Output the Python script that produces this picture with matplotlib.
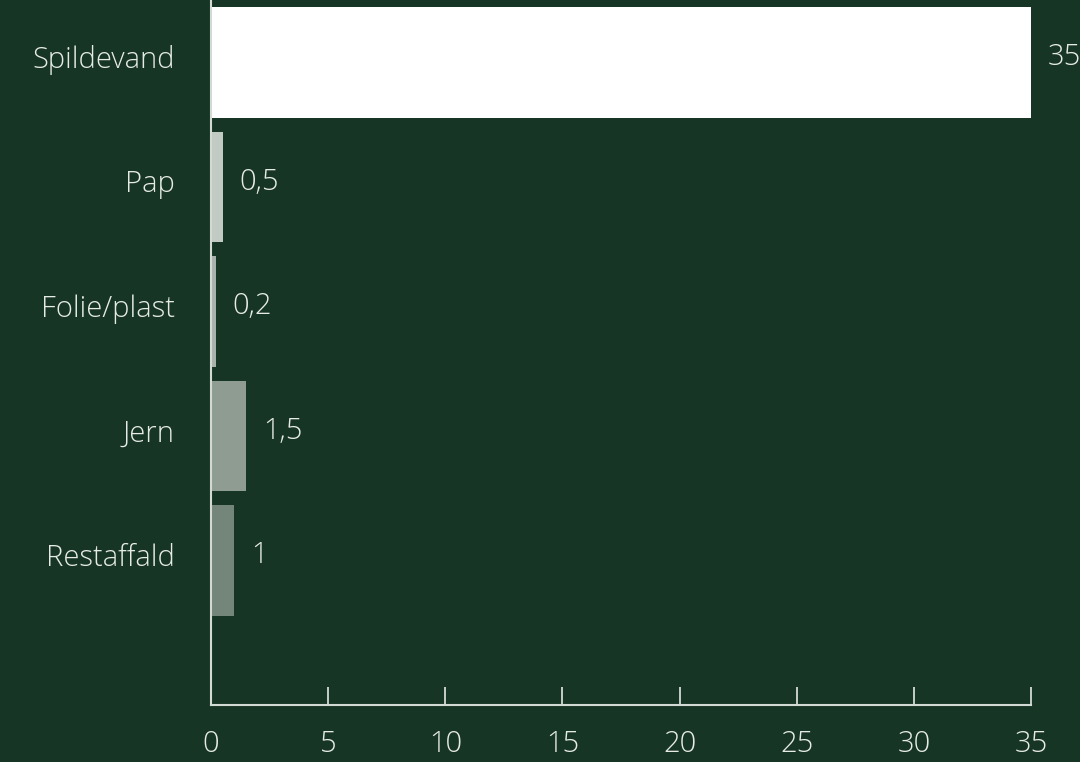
import matplotlib
matplotlib.use("Agg")
import matplotlib.pyplot as plt
import matplotlib.transforms as mtransforms

categories = ["Spildevand", "Pap", "Folie/plast", "Jern", "Restaffald"]
values = [35, 0.5, 0.2, 1.5, 1]
value_labels = ["35", "0,5", "0,2", "1,5", "1"]
bar_colors = ["#ffffff", "#c2cac4", "#a9b3ac", "#8e9c92", "#748679"]
x_ticks = [0, 5, 10, 15, 20, 25, 30, 35]

bg = "#173524"
fg = "#e6ebe7"
spine_col = "#d3d9d5"

plt.rcParams["font.family"] = ["Open Sans", "DejaVu Sans"]
plt.rcParams["font.weight"] = 300
FS = 21

fig = plt.figure(figsize=(10.8, 7.62), dpi=100, facecolor=bg)
ax = fig.add_axes([211 / 1080, 57 / 762, 820 / 1080, 705 / 762])
ax.set_facecolor(bg)

pos = list(range(len(categories)))
ax.barh(pos, values, height=0.89, color=bar_colors, edgecolor="none")

for p, v, lab in zip(pos, values, value_labels):
    ax.annotate(lab, xy=(v, p), xytext=(17, 5), textcoords="offset pixels",
                ha="left", va="center", color=fg, fontsize=FS, annotation_clip=False)

ax.set_xlim(0, 35)
ax.set_ylim(5.16, -0.502)
ax.set_yticks(pos)
ax.set_yticklabels(categories)
ax.set_xticks(x_ticks)
ax.set_xticklabels([str(t) for t in x_ticks])

for s in ["top", "right"]:
    ax.spines[s].set_visible(False)
for s in ["left", "bottom"]:
    ax.spines[s].set_color(spine_col)
    ax.spines[s].set_linewidth(1.5)

ax.tick_params(axis="x", direction="in", length=13, width=1.3, color=spine_col,
               labelcolor=fg, labelsize=FS, pad=18)
ax.tick_params(axis="y", length=0, labelcolor=fg, labelsize=FS, pad=26)

# nudge category labels up slightly so they sit on the bar centre optically
offset = mtransforms.ScaledTranslation(0, 6 / 100, fig.dpi_scale_trans)
for t in ax.get_yticklabels():
    t.set_transform(t.get_transform() + offset)

fig.savefig("out.png", dpi=100, facecolor=bg)
